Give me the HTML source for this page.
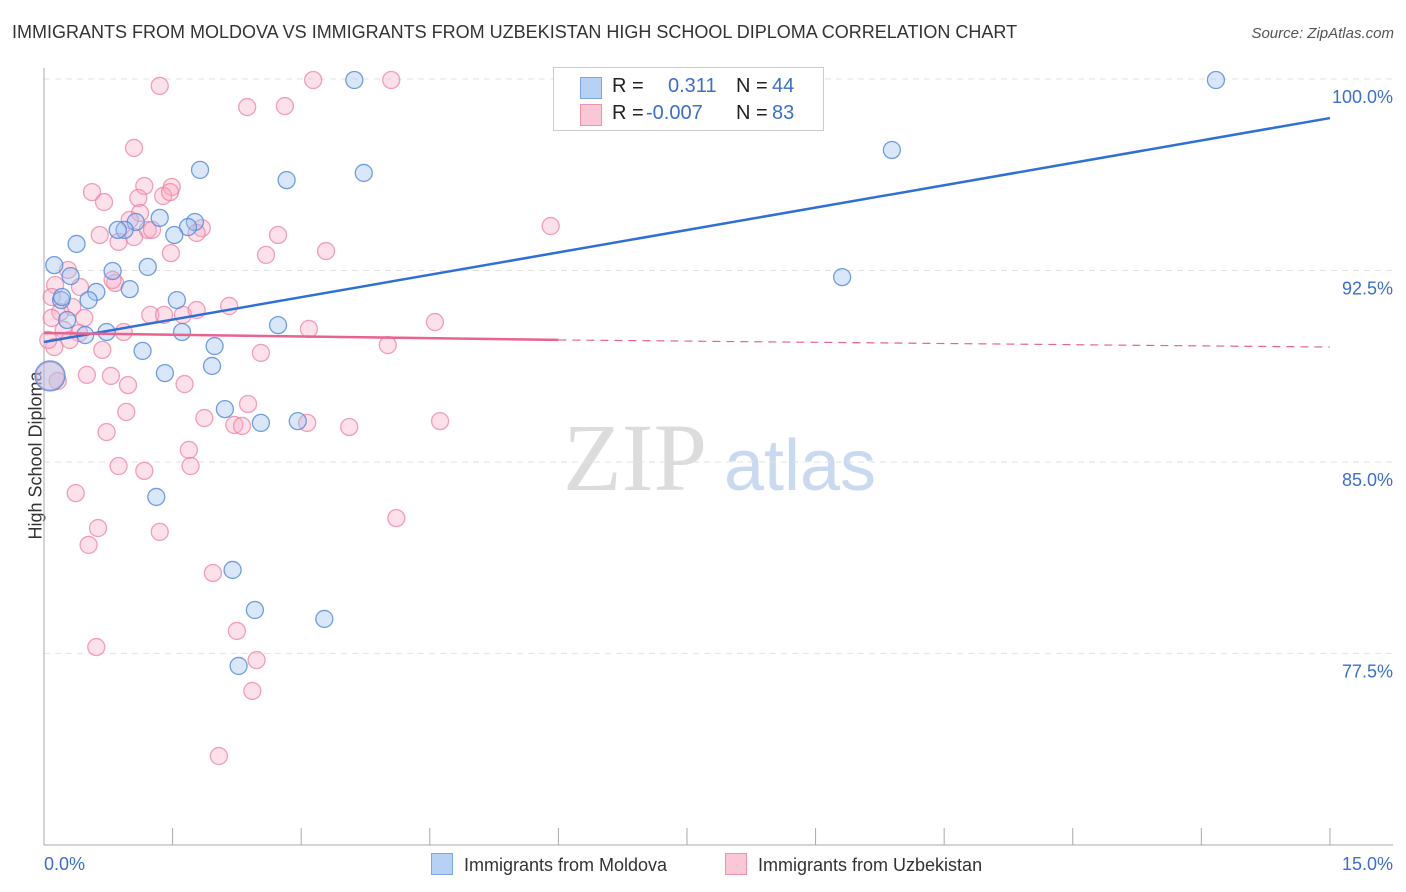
<!DOCTYPE html>
<html><head><meta charset="utf-8"><style>
body{margin:0;background:#fff;font-family:"Liberation Sans",sans-serif;}
#wrap{position:relative;width:1406px;height:892px;overflow:hidden;}
.t{position:absolute;white-space:nowrap;}
</style></head><body>
<div id="wrap">
<div class="t" style="left:12px;top:22px;font-size:18px;color:#333;">IMMIGRANTS FROM MOLDOVA VS IMMIGRANTS FROM UZBEKISTAN HIGH SCHOOL DIPLOMA CORRELATION CHART</div>
<div class="t" style="right:12px;top:25px;font-size:15px;color:#555;font-style:italic;">Source: ZipAtlas.com</div>
<div class="t" style="left:-48px;top:445px;font-size:18px;color:#333;transform:rotate(-90deg);">High School Diploma</div>
<svg id="svg" width="1406" height="892" style="position:absolute;left:0;top:0;"></svg>
<div style="position:absolute;left:553px;top:67px;width:269px;height:62px;border:1px solid #ccc;background:#fff;font-size:20px;">
 <div style="position:absolute;left:26px;top:9px;width:20px;height:20px;background:#b7d1f5;border:1px solid #7aa6e6;"></div>
 <div class="t" style="left:58px;top:7px;color:#222;">R =</div>
 <div class="t" style="left:114px;top:7px;color:#3a6fd0;">0.311</div>
 <div class="t" style="left:182px;top:7px;color:#222;">N =</div>
 <div class="t" style="left:218px;top:7px;color:#3a6fd0;">44</div>
 <div style="position:absolute;left:26px;top:36px;width:20px;height:20px;background:#fbc6d5;border:1px solid #ee93ad;"></div>
 <div class="t" style="left:58px;top:34px;color:#222;">R =</div>
 <div class="t" style="left:92px;top:34px;color:#3a6fd0;">-0.007</div>
 <div class="t" style="left:182px;top:34px;color:#222;">N =</div>
 <div class="t" style="left:218px;top:34px;color:#3a6fd0;">83</div>
</div>
<div style="position:absolute;left:431px;top:853px;font-size:18px;color:#333;">
 <span style="display:inline-block;width:20px;height:20px;background:#b7d1f5;border:1px solid #7aa6e6;vertical-align:-4px;"></span>
 <span style="margin-left:6px;">Immigrants from Moldova</span></div>
<div style="position:absolute;left:725px;top:853px;font-size:18px;color:#333;">
 <span style="display:inline-block;width:20px;height:20px;background:#fbc6d5;border:1px solid #ee93ad;vertical-align:-4px;"></span>
 <span style="margin-left:6px;">Immigrants from Uzbekistan</span></div>
</div>
<script>
const yTicks=[100,92.5,85,77.5];
const yTickLabels=["100.0%","92.5%","85.0%","77.5%"];
const xTickLabels=["0.0%","15.0%"];
const blueX=[3.62,7.98,13.67,9.89,1.82,3.73,2.83,1.35,1.76,1.68,1.07,0.94,0.86,1.52,0.38,0.12,1.21,0.80,0.31,1.00,0.61,0.52,0.20,1.55,9.31,0.27,2.73,0.73,1.61,0.48,1.99,1.15,1.96,1.41,0.07,2.11,2.53,2.96,1.31,2.20,2.46,3.27,2.27,0.21];
const blueY=[99.96,99.96,99.96,97.22,96.44,96.32,96.04,94.56,94.40,94.20,94.40,94.09,94.09,93.89,93.54,92.71,92.64,92.48,92.28,91.77,91.66,91.34,91.34,91.34,92.24,90.56,90.36,90.09,90.09,89.97,89.54,89.35,88.76,88.48,88.37,87.07,86.53,86.60,83.63,80.77,79.20,78.85,77.01,91.46];
const pinkX=[1.35,3.14,4.05,2.37,2.81,1.05,1.49,0.56,0.70,1.17,1.10,1.39,1.47,1.12,1.00,1.21,1.05,0.87,1.26,0.65,1.84,1.78,2.73,1.48,2.59,3.29,5.91,0.28,0.13,0.42,0.83,0.09,0.80,0.33,0.19,0.47,0.23,0.41,1.24,1.40,1.62,2.16,1.78,0.93,3.09,4.56,0.12,0.68,2.53,4.01,0.50,0.78,1.64,0.98,0.16,0.07,0.96,2.38,1.87,2.22,2.31,3.07,3.56,4.62,0.73,1.69,0.87,1.17,1.71,0.37,1.35,0.63,0.52,4.11,1.97,2.25,0.61,2.48,2.43,2.04,0.09,0.30,0.05];
const pinkY=[99.73,99.96,99.96,98.90,98.94,97.30,95.77,95.57,95.18,95.81,95.34,95.42,95.57,94.75,94.48,94.09,93.81,93.62,94.09,93.89,94.16,93.97,93.89,93.18,93.11,93.26,94.24,92.52,91.93,91.85,92.01,91.46,92.13,91.07,90.87,90.64,90.17,90.05,90.76,90.76,90.76,91.11,90.95,90.09,90.21,90.48,89.50,89.39,89.27,89.58,88.41,88.37,88.05,88.01,88.17,88.37,86.96,87.27,86.72,86.45,86.41,86.53,86.37,86.60,86.17,85.47,84.84,84.65,84.84,83.78,82.26,82.41,81.75,82.80,80.65,78.38,77.75,77.24,76.03,73.48,90.64,89.78,89.78];
const blueTrend=[89.70,98.47];
const pinkTrend=[90.05,89.78,89.50];
const pinkTrendX=[0,6,15];
const X=v=>44+v*85.73, Y=v=>79+(100-v)*25.53;
const svg=document.getElementById('svg'), NS='http://www.w3.org/2000/svg';
function mk(tag,a){const e=document.createElementNS(NS,tag);for(const k in a)e.setAttribute(k,a[k]);svg.appendChild(e);return e;}
function tx(x,y,s,a,c,sz){const e=mk('text',{x:x,y:y,'text-anchor':a,fill:c,'font-size':sz,'font-family':'Liberation Sans, sans-serif'});e.textContent=s;return e;}
// watermark
let w=tx(635,490,'ZIP','middle','#dcdcdc',96);w.setAttribute('font-family','Liberation Serif, serif');


w=tx(800,490,'atlas','middle','#c9d9f0',72);


yTicks.forEach((v,i)=>{
 const g=mk('line',{x1:44,x2:1393,y1:Y(v),y2:Y(v),stroke:'#e2e2e2','stroke-dasharray':'6,5'});
 
 
 const l=tx(1393,Y(v)+24,yTickLabels[i],'end','#3a6fd0',18);
 
 
});
let ax=mk('line',{x1:44,x2:44,y1:68,y2:845,stroke:'#aaa'});


ax=mk('line',{x1:44,x2:1393,y1:845,y2:845,stroke:'#aaa'});


for(let i=0;i<=10;i++){const t=mk('line',{x1:X(i*1.5),x2:X(i*1.5),y1:828,y2:845,stroke:'#aaa'});
 
 }
let xl=tx(44,870,xTickLabels[0],'start','#3a6fd0',18);


xl=tx(1393,870,xTickLabels[1],'end','#3a6fd0',18);


pinkX.forEach((v,i)=>{const c=mk('circle',{cx:X(v),cy:Y(pinkY[i]),r:(i==55?14:8.5),fill:'rgba(248,170,195,0.35)',stroke:'rgba(236,130,160,0.75)','stroke-width':1.3});
 
 });
blueX.forEach((v,i)=>{const c=mk('circle',{cx:X(v),cy:Y(blueY[i]),r:(i==34?15:8.5),fill:'rgba(160,195,240,0.4)',stroke:'rgba(80,135,220,0.8)','stroke-width':1.3});
 
 });
let tl=mk('line',{x1:X(0),y1:Y(blueTrend[0]),x2:X(15),y2:Y(blueTrend[1]),stroke:'#2f6fd6','stroke-width':2.5});


tl=mk('line',{x1:X(pinkTrendX[0]),y1:Y(pinkTrend[0]),x2:X(pinkTrendX[1]),y2:Y(pinkTrend[1]),stroke:'#e8638e','stroke-width':2.5});


tl=mk('line',{x1:X(pinkTrendX[1]),y1:Y(pinkTrend[1]),x2:X(pinkTrendX[2]),y2:Y(pinkTrend[2]),stroke:'#e8638e','stroke-width':1.2,'stroke-dasharray':'8,6'});


</script>
</body></html>
